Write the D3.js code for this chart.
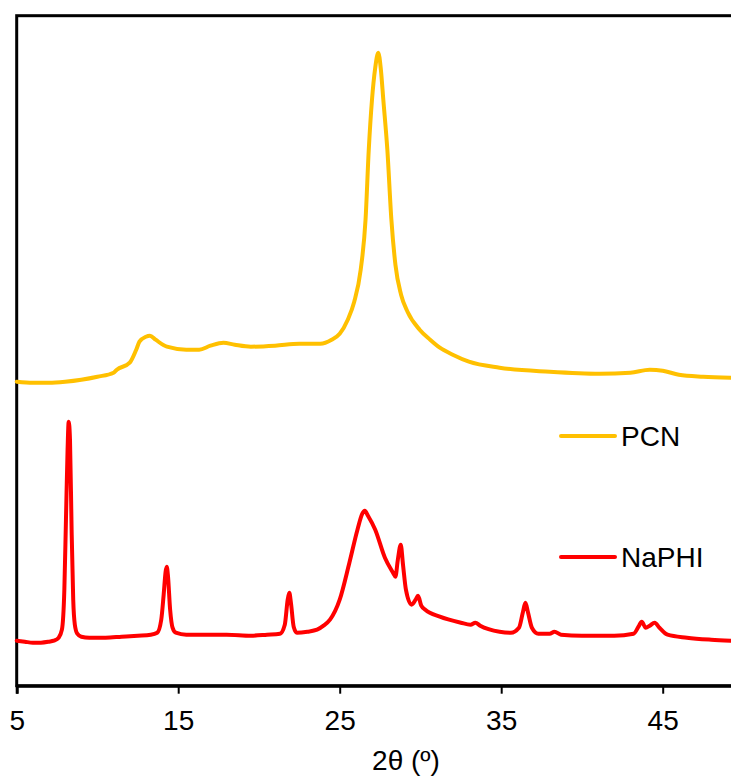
<!DOCTYPE html>
<html>
<head>
<meta charset="utf-8">
<script src="https://cdn.jsdelivr.net/npm/d3@7"></script>
<style>
  html, body { margin: 0; padding: 0; background: #ffffff; overflow: hidden; }
  svg { display: block; }
  text { font-family: "Liberation Sans", Arial, sans-serif; fill: #000; }
</style>
</head>
<body>
<svg id="chart" width="731" height="776"></svg>
<script>
// ---- data (2θ in degrees, intensity in a.u., PCN stacked above NaPHI) ----
const naphiTheta = [5.0,5.5,6.0,6.5,7.0,7.3,7.6,7.8,7.95,8.05,8.15,8.22,8.3,8.4,8.5,8.6,8.75,9.0,9.5,10.5,11.5,12.5,13.3,13.7,13.95,14.1,14.22,14.29,14.36,14.5,14.65,14.85,15.5,16.5,18.0,19.5,20.5,21.3,21.6,21.78,21.88,21.98,22.15,22.35,23.0,23.6,24.0,24.4,25.0,25.6,26.1,26.4,26.55,26.75,27.2,27.8,28.3,28.45,28.6,28.78,28.92,29.1,29.45,29.7,29.85,30.05,30.3,31.2,32.5,33.1,33.4,33.7,34.9,35.6,36.1,36.35,36.5,36.65,36.9,37.3,38.0,38.3,38.7,40.0,42.0,43.2,43.5,43.7,43.95,44.2,44.5,44.8,45.3,46.5,48.0,49.2];
const naphiI     = [45,44,43,43,44,45,48,56,96,166,236,264,246,156,86,61,52,49,48,48,49,50,51,53,66,91,114,119,111,76,58,53,51,51,51,50,51,52,61,86,93,83,59,53,54,56,60,66,86,123,156,172,175,170,156,128,113,109,126,141,121,96,81,86,90,80,76,69,63,61,63,60,54,53,58,74,83,74,58,52,52,54,51,50,50,52,59,64,58,60,63,58,51,48,46,45];

const pcnTheta = [5.0,6.0,7.0,8.0,9.0,10.0,11.0,11.2,12.0,12.4,12.6,13.0,13.25,13.6,14.3,15.5,16.3,17.0,17.8,18.5,19.5,21.0,22.5,23.8,24.5,25.0,25.5,25.9,26.3,26.6,26.8,27.0,27.2,27.39,27.55,27.7,27.95,28.2,28.45,28.8,29.2,29.95,30.6,31.2,32.0,33.0,34.9,38.0,41.1,43.0,44.2,45.0,46.0,47.5,49.2];
const pcnI     = [304,303,303,304,306,309,313,316,323,336,344,349,350,346,339,336,336,340,343,341,339,340,342,342,346,352,366,384,416,466,536,586,618,633,616,586,536,466,421,391,374,356,346,338,331,324,318,314,312,313,316,315,311,309,308];

const seriesNames = ["PCN", "NaPHI"];
const seriesColors = ["#FFC000", "#FF0000"];
const xTicks = [5, 15, 25, 35, 45];
const xTitle = "2θ (º)";

// ---- layout ----
const svg = d3.select("#chart");
const padL = 16.7, padT = 15.7, axisY = 685.7;
const x = d3.scaleLinear().domain([5, 50]).range([padL, padL + 45 * 16.15]);
const y = d3.scaleLinear().domain([0, 670]).range([axisY, padT]);

// plot area border
svg.append("rect")
  .attr("x", x(5)).attr("y", padT)
  .attr("width", x(50) - x(5)).attr("height", axisY - padT)
  .attr("fill", "none").attr("stroke", "#000").attr("stroke-width", 3);

const line = d3.line()
  .x(d => x(d[0])).y(d => y(d[1]))
  .curve(d3.curveMonotoneX);

const series = [
  d3.zip(pcnTheta, pcnI),
  d3.zip(naphiTheta, naphiI)
];

svg.append("g").selectAll("path")
  .data(series)
  .join("path")
  .attr("d", line)
  .attr("fill", "none")
  .attr("stroke", (d, i) => seriesColors[i])
  .attr("stroke-width", 4)
  .attr("stroke-linejoin", "round")
  .attr("stroke-linecap", "round");

// x axis
const xAxis = d3.axisBottom(x).tickValues(xTicks).tickSize(8).tickPadding(16).tickFormat(d3.format("d"));
const gx = svg.append("g").attr("transform", `translate(0,${axisY})`).call(xAxis);
gx.select(".domain").attr("stroke", "#000").attr("stroke-width", 3);
gx.selectAll(".tick line").attr("stroke", "#000").attr("stroke-width", 2);
gx.selectAll(".tick text")
  .attr("font-size", 28)
  .attr("font-family", "'Liberation Sans', Arial, sans-serif")
  .attr("fill", "#000");

svg.append("text")
  .attr("x", 406).attr("y", 770)
  .attr("text-anchor", "middle")
  .attr("font-size", 28)
  .text(xTitle);

// legend
const legendY = [436, 557];
const lg = svg.append("g").selectAll("g")
  .data(seriesNames)
  .join("g")
  .attr("transform", (d, i) => `translate(561,${legendY[i]})`);
lg.append("line")
  .attr("x1", 0).attr("x2", 54)
  .attr("stroke", (d, i) => seriesColors[i])
  .attr("stroke-width", 4).attr("stroke-linecap", "round");
lg.append("text")
  .attr("x", 60).attr("y", 10)
  .attr("font-size", 28)
  .text(d => d);
</script>
</body>
</html>
